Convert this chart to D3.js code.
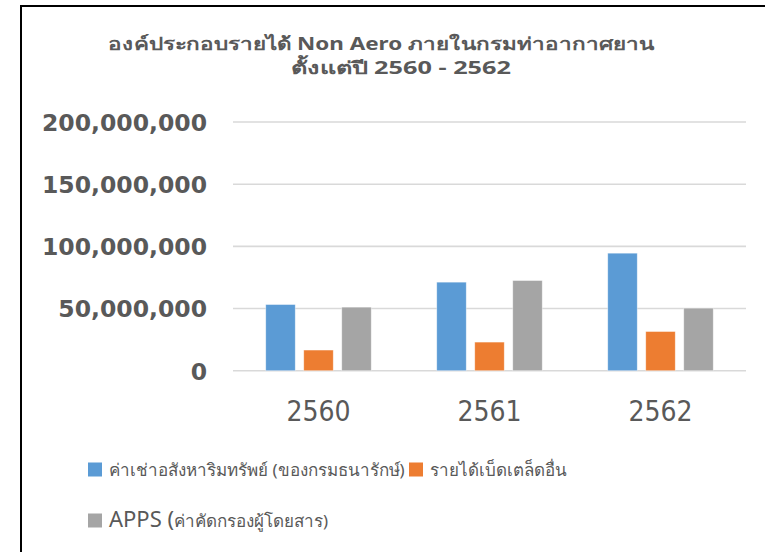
<!DOCTYPE html>
<html><head><meta charset="utf-8">
<script src="https://cdn.jsdelivr.net/npm/d3@7/dist/d3.min.js"></script>
<style>
html,body{margin:0;padding:0;background:#fff;}
svg{display:block;}
</style></head>
<body>
<svg id="c" width="765" height="552"></svg>
<script>
const titleLines = ["องค์ประกอบรายได้ Non Aero ภายในกรมท่าอากาศยาน", "ตั้งแต่ปี 2560 - 2562"];
const categories = ["2560", "2561", "2562"];
const seriesNames = ["ค่าเช่าอสังหาริมทรัพย์ (ของกรมธนารักษ์)", "รายได้เบ็ดเตล็ดอื่น", "APPS (ค่าคัดกรองผู้โดยสาร)"];
const rentValues = [53200000, 71200000, 94500000];
const miscValues = [16600000, 23000000, 31500000];
const appsValues = [51100000, 72500000, 50300000];
const yTicks = [0, 50000000, 100000000, 150000000, 200000000];
const colors = ["#5b9bd5", "#ed7d31", "#a5a5a5"];

const series = [rentValues, miscValues, appsValues];
const svg = d3.select("#c");
const textColor = "#595959";

// outer frame
svg.append("path").attr("d", "M21,560 L21,6 L770,6").attr("fill", "none").attr("stroke", "#000").attr("stroke-width", 2);

// title (one text element, two lines)
const thaiFont = "'Noto Sans', 'DejaVu Sans', sans-serif";
const title = svg.append("text").attr("text-anchor", "middle")
  .attr("font-family", thaiFont).attr("font-weight", "bold").attr("font-size", 17.5).attr("fill", textColor);
title.append("tspan").attr("x", 381).attr("y", 50)
  .attr("textLength", 546).attr("lengthAdjust", "spacingAndGlyphs").text(titleLines[0]);
title.append("tspan").attr("x", 401).attr("y", 74)
  .attr("textLength", 220).attr("lengthAdjust", "spacingAndGlyphs").text(titleLines[1]);

const x = d3.scaleBand().domain(categories).range([233, 746]).paddingInner(0).paddingOuter(0);
const xs = d3.scaleBand().domain(d3.range(series.length)).range([0, x.bandwidth()]).paddingInner(0.224).paddingOuter(0.862);
const y = d3.scaleLinear().domain([0, 200000000]).range([370.7, 122]);

// gridlines
svg.append("g").selectAll("line").data(yTicks).join("line")
  .attr("x1", 233).attr("x2", 746).attr("y1", d => y(d)).attr("y2", d => y(d))
  .attr("stroke", "#d9d9d9").attr("stroke-width", 1.6);

// y axis labels
const yAxis = d3.axisLeft(y).tickValues(yTicks).tickSize(0).tickPadding(0).tickFormat(d3.format(","));
const ga = svg.append("g").attr("transform", "translate(207,0)").call(yAxis);
ga.select(".domain").remove();
ga.selectAll("text").attr("font-family", "'DejaVu Sans', sans-serif").attr("font-weight", "bold")
  .attr("font-size", 23.5).attr("fill", textColor).attr("dy", "0.36em");

// bars
series.forEach((vals, si) => {
  svg.append("g").selectAll("rect").data(vals).join("rect")
    .attr("x", (d, i) => x(categories[i]) + xs(si))
    .attr("width", xs.bandwidth())
    .attr("y", d => y(d))
    .attr("height", d => y(0) - y(d))
    .attr("fill", colors[si])
    .attr("stroke", "#fff").attr("stroke-opacity", 0.5).attr("stroke-width", 0.75);
});

// x axis labels
const xAxis = d3.axisBottom(x).tickSize(0).tickPadding(0);
const gx = svg.append("g").attr("transform", "translate(0,421)").call(xAxis);
gx.select(".domain").remove();
gx.selectAll("text").attr("font-family", "'DejaVu Sans Condensed', 'DejaVu Sans', sans-serif")
  .attr("font-size", 28).attr("fill", textColor).attr("dy", 0);

// legend
const legendItems = [
  {name: seriesNames[0], color: colors[0], x: 88, y: 476},
  {name: seriesNames[1], color: colors[1], x: 409, y: 476},
  {name: seriesNames[2], color: colors[2], x: 88, y: 527}
];
const lg = svg.append("g");
legendItems.forEach(it => {
  lg.append("rect").attr("x", it.x).attr("y", it.y - 13.5).attr("width", 14).attr("height", 14).attr("fill", it.color);
  const t = lg.append("text").attr("x", it.x + 21).attr("y", it.y).attr("font-family", thaiFont)
    .attr("font-size", 17).attr("fill", textColor);
  const m = it.name.match(/^([A-Za-z]+ \()(.*)$/);
  if (m) {
    t.append("tspan").attr("font-size", 22).text(m[1]);
    t.append("tspan").text(m[2]);
  } else {
    t.text(it.name);
  }
});
</script>
</body></html>
